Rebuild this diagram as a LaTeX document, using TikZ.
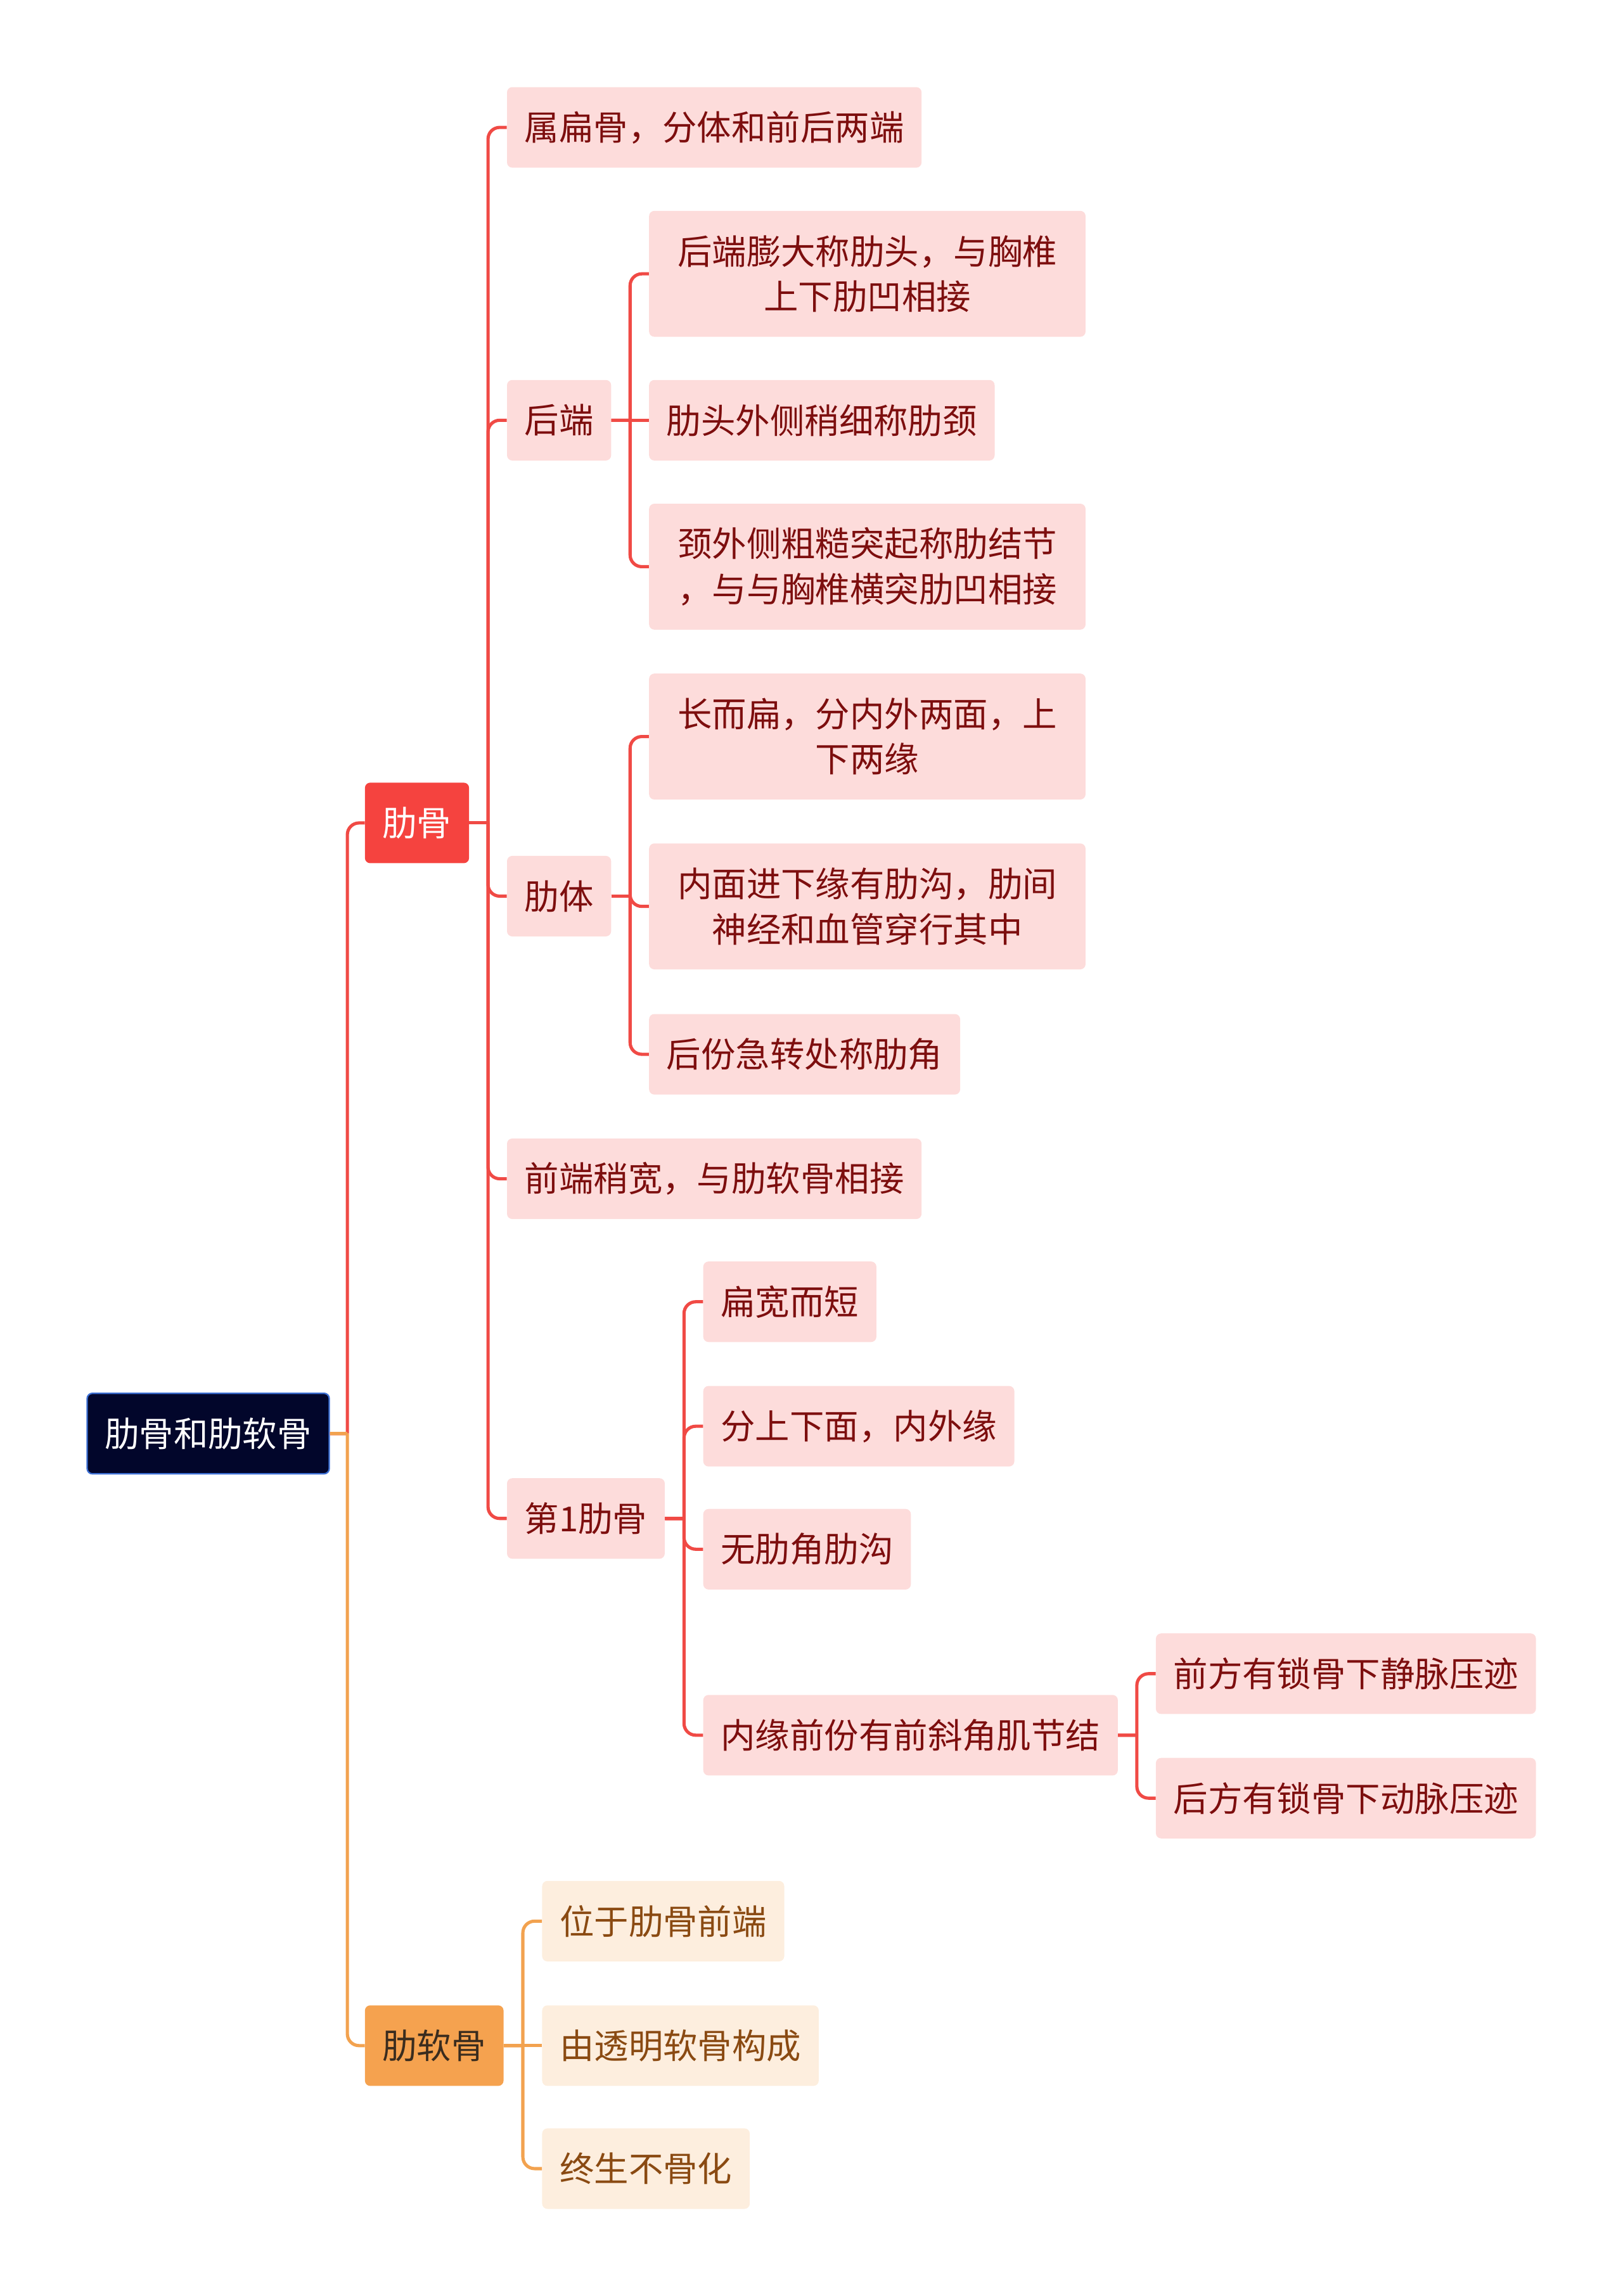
\documentclass[tikz,border=0pt]{standalone}
\usepackage{fontspec}
\usepackage{xcolor}
\usepackage{tikz}
\setmainfont{Noto Sans CJK SC}
\usetikzlibrary{calc}

\definecolor{rootfill}{HTML}{02062B}
\definecolor{rootline}{HTML}{3C6FD4}
\definecolor{ribfill}{HTML}{F5433F}
\definecolor{rline}{HTML}{F04A45}
\definecolor{rleaffill}{HTML}{FDDCDB}
\definecolor{rleaftext}{HTML}{7D0E0E}
\definecolor{cartfill}{HTML}{F5A24F}
\definecolor{carttext}{HTML}{3A2C1E}
\definecolor{oline}{HTML}{F2A24F}
\definecolor{oleaffill}{HTML}{FDEEDE}
\definecolor{oleaftext}{HTML}{8A4A12}

\begin{document}
\begin{tikzpicture}[
    x=0.5mm, y=-0.5mm,
    font=\fontsize{33.5}{44}\selectfont,
    box/.style={rectangle, rounded corners=1.8mm, inner xsep=6mm,
                minimum height=27.5mm, anchor=west, align=center},
    root/.style={box, fill=rootfill, draw=rootline, line width=0.5mm, text=white},
    rib/.style={box, fill=ribfill, text=white},
    cart/.style={box, fill=cartfill, text=carttext},
    rleaf/.style={box, fill=rleaffill, text=rleaftext},
    oleaf/.style={box, fill=oleaffill, text=oleaftext},
    wide/.style={minimum width=149mm, minimum height=43mm},
    rlink/.style={draw=rline, line width=1.1mm, rounded corners=4mm},
    olink/.style={draw=oline, line width=1.1mm, rounded corners=4mm}
  ]

  \useasboundingbox (0,0) rectangle (1108,1568);

  % main branches
  \node[root] (root) at (59,979)  {肋骨和肋软骨};
  \node[rib]  (rib)  at (249,562) {肋骨};
  \node[cart] (cart) at (249,1397) {肋软骨};

  % rib
  \node[rleaf] (flat)  at (346,87)   {属扁骨，分体和前后两端};
  \node[rleaf] (back)  at (346,287)  {后端};
  \node[rleaf] (body)  at (346,612)  {肋体};
  \node[rleaf] (front) at (346,805)  {前端稍宽，与肋软骨相接};
  \node[rleaf] (first) at (346,1037) {第1肋骨};

  \node[rleaf, wide] (head)  at (443,187) {后端膨大称肋头，与胸椎\\上下肋凹相接};
  \node[rleaf]       (neck)  at (443,287) {肋头外侧稍细称肋颈};
  \node[rleaf, wide] (tuber) at (443,387) {颈外侧粗糙突起称肋结节\\，与与胸椎横突肋凹相接};

  \node[rleaf, wide] (faces)  at (443,503) {长而扁，分内外两面，上\\下两缘};
  \node[rleaf, wide] (groove) at (443,619) {内面进下缘有肋沟，肋间\\神经和血管穿行其中};
  \node[rleaf]       (angle)  at (443,720) {后份急转处称肋角};

  \node[rleaf] (short) at (480,889)  {扁宽而短};
  \node[rleaf] (edges) at (480,974)  {分上下面，内外缘};
  \node[rleaf] (noang) at (480,1058) {无肋角肋沟};
  \node[rleaf] (scal)  at (480,1185) {内缘前份有前斜角肌节结};

  \node[rleaf] (vein)   at (789,1143) {前方有锁骨下静脉压迹};
  \node[rleaf] (artery) at (789,1228) {后方有锁骨下动脉压迹};

  % cartilage
  \node[oleaf] (tip)   at (370,1312) {位于肋骨前端};
  \node[oleaf] (hyal)  at (370,1397) {由透明软骨构成};
  \node[oleaf] (never) at (370,1481) {终生不骨化};

  % links
  \foreach \p/\c in {root/rib, rib/flat, rib/back, rib/body, rib/front, rib/first,
                     back/head, back/tuber, body/faces, body/groove, body/angle,
                     first/short, first/edges, first/noang, first/scal,
                     scal/vein, scal/artery} {
    \draw[rlink] ($(\p.east)!.5!(\p.east -| \c.west)$) |- (\c.west);
    \draw[rlink] (\p.east) -- ($(\p.east)!.5!(\p.east -| \c.west)$);
  }
  \draw[rlink] (back.east) -- (neck.west);

  \foreach \p/\c in {root/cart, cart/tip, cart/never} {
    \draw[olink] ($(\p.east)!.5!(\p.east -| \c.west)$) |- (\c.west);
    \draw[olink] (\p.east) -- ($(\p.east)!.5!(\p.east -| \c.west)$);
  }
  \draw[olink] (cart.east) -- (hyal.west);

\end{tikzpicture}
\end{document}
